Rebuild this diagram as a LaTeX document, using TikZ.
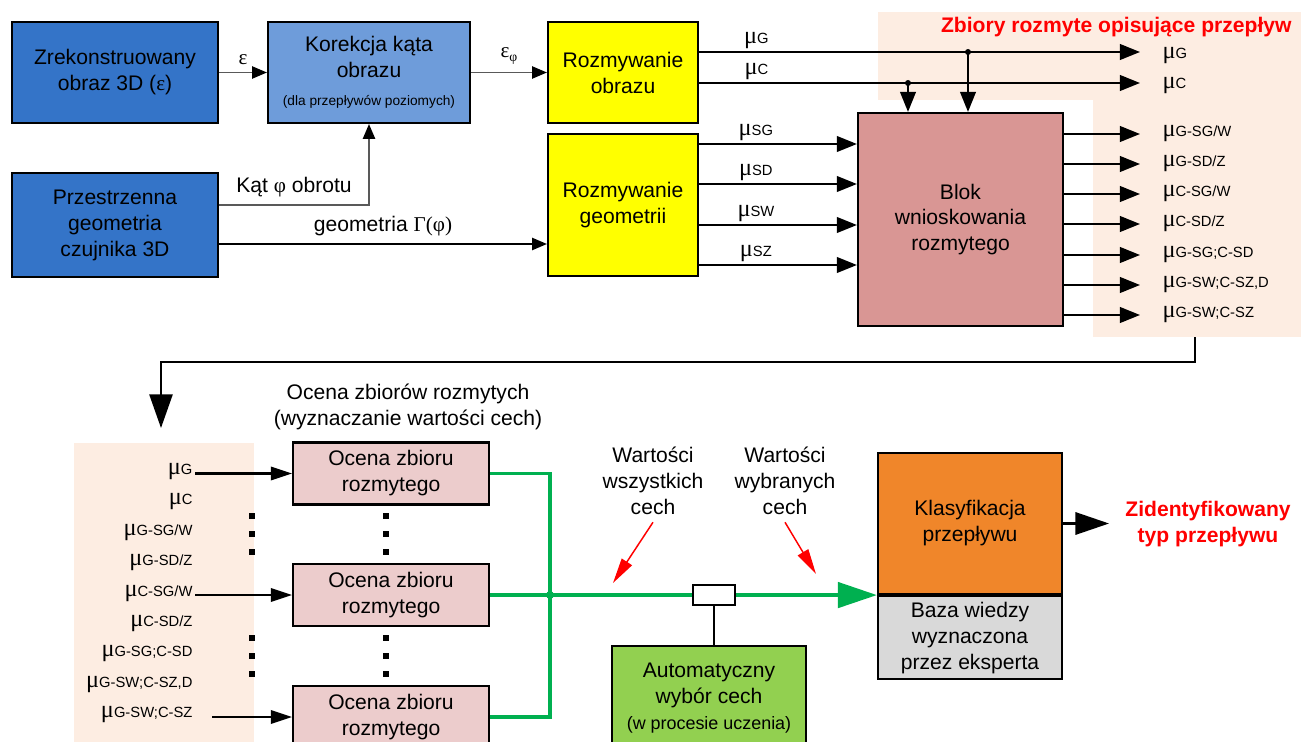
\documentclass[tikz,border=0pt]{standalone}
\usepackage{fontspec}
\setmainfont{Liberation Sans}
\newfontfamily\symb{Liberation Serif}
\usepackage{tikz}
\usetikzlibrary{calc}
\usetikzlibrary{arrows.meta}
\usetikzlibrary{positioning}
\definecolor{obrazblue}{RGB}{52, 116, 200}
\definecolor{korblue}{RGB}{110, 156, 218}
\definecolor{rozyellow}{RGB}{255, 255, 0}
\definecolor{blokpink}{RGB}{217, 150, 148}
\definecolor{ocenapink}{RGB}{236, 204, 204}
\definecolor{peach}{RGB}{253, 237, 226}
\definecolor{klasorange}{RGB}{240, 134, 42}
\definecolor{autogreen}{RGB}{146, 208, 80}
\definecolor{bazagray}{RGB}{217, 217, 217}
\definecolor{busgreen}{RGB}{0, 176, 80}
\newcommand{\mufs}[1]{{\symb\fontsize{11.5}{12}\selectfont μ}{\fontsize{7}{8}\selectfont #1}}
\newcommand{\smalltxt}{\fontsize{6.5}{8}\selectfont}

\begin{document}
\begin{tikzpicture}[x=0.016667cm, y=-0.016667cm,
        font=\fontsize{10}{12.3}\selectfont,
        box/.style={draw=black, line width=1pt, align=center, inner sep=1pt},
        thinarrow/.style={draw=black!65, line width=0.7pt, -{Triangle[length=7pt, width=5.8pt, color=black]}},
        muarrow/.style={line width=1pt, -{Triangle[length=9.5pt, width=7.4pt]}},
        inarrow/.style={line width=1pt, -{Triangle[length=10pt, width=6.4pt]}},
        retarrow/.style={line width=1pt, -{Triangle[length=16pt, width=11pt]}},
        busline/.style={draw=busgreen, line width=1.8pt},
        busarrow/.style={draw=busgreen, line width=1.8pt, -{Triangle[length=18.5pt, width=12pt]}},
        outarrow/.style={line width=1.4pt, -{Triangle[length=16pt, width=10.5pt]}},
        redarrow/.style={draw=red, line width=0.7pt, -{Triangle[length=12pt, width=5.7pt]}},
        redtxt/.style={text=red, font=\fontsize{10}{12.3}\selectfont\bfseries, align=center}]
    \useasboundingbox (0,0) rectangle (1301,742);
    \clip (0,0) rectangle (1301,742);

    % tla
    \fill[peach] (878,12) rectangle (1301,100);
    \fill[peach] (1093,100) rectangle (1301,337);
    \fill[peach] (74,443) rectangle (254,742);

    % gorny rzad
    \node[box, fill=obrazblue, minimum width=3.433cm, minimum height=1.683cm] (obraz) at (115,72.5)
        {Zrekonstruowany\\obraz 3D ({\symb ε})};
    \node[box, fill=korblue, minimum width=3.367cm, minimum height=1.683cm] (korekcja) at (369,72.5)
        {Korekcja kąta\\obrazu\\[1pt]{\smalltxt (dla przepływów poziomych)}};
    \node[box, fill=obrazblue, minimum width=3.433cm, minimum height=1.733cm] (geom) at (115,225)
        {Przestrzenna\\geometria\\czujnika 3D};
    \node[box, fill=rozyellow, minimum width=2.5cm, minimum height=1.683cm] (rozobr) at (623,72.5)
        {Rozmywanie\\obrazu};
    \node[box, fill=rozyellow, minimum width=2.5cm, minimum height=2.367cm] (rozgeo) at (623,205)
        {Rozmywanie\\geometrii};
    \node[box, fill=blokpink, minimum width=3.417cm, minimum height=3.55cm] (blok) at (960.5,219.5)
        {Blok\\wnioskowania\\rozmytego};

    \draw[thinarrow] (obraz) -- (korekcja) node[midway, above] {{\symb ε}};
    \draw[thinarrow] (korekcja) -- (rozobr)
        node[midway, above] {{\symb ε\raisebox{-0.4ex}{\smalltxt φ}}};
    \draw[thinarrow] ($(geom.east)+(0,-20)$) -| (korekcja.south)
        node[pos=0.25, above] {Kąt {\symb φ} obrotu};
    \draw[thinarrow, draw=black] ($(geom.east)+(0,19)$) coordinate (gA) -- (gA -| rozgeo.west)
        node[midway, above] {geometria {\symb Γ(φ)}};

    % zbiory rozmyte
    \node[redtxt, anchor=east] (ztitle) at (1299,27) {Zbiory rozmyte opisujące przepływ};
    \coordinate (lineG) at (1140,52);
    \coordinate (lineC) at (1140,83);
    \node[anchor=west, inner sep=1pt] (oG) at (1160,56) {\mufs{G}};
    \node[anchor=west, inner sep=1pt] (oC) at (1160,86) {\mufs{C}};
    \draw[muarrow] (rozobr.east |- lineG) -- (lineG) node[pos=0.13, above, inner sep=1pt] {\mufs{G}};
    \draw[muarrow] (rozobr.east |- lineC) -- (lineC) node[pos=0.13, above, inner sep=1pt] {\mufs{C}};
    \coordinate (tapG) at (968,52);
    \coordinate (tapC) at (908,83);
    \fill (tapG) circle (3);
    \fill (tapC) circle (3);
    \draw[muarrow] (tapG) -- (tapG |- blok.north);
    \draw[muarrow] (tapC) -- (tapC |- blok.north);

    \foreach \y/\s [count=\i] in {144/SG, 184/SD, 225/SW, 265/SZ} {
        \coordinate (in\i) at (800,\y);
        \draw[muarrow] (rozgeo.east |- in\i) -- (blok.west |- in\i)
            node[pos=0.36, above, inner sep=1pt] {\mufs{\s}};
    }
    \foreach \y/\s [count=\i] in {134/{G-SG/W}, 164/{G-SD/Z}, 194/{C-SG/W}, 224/{C-SD/Z},
            255/{G-SG;C-SD}, 285/{G-SW;C-SZ,D}, 315/{G-SW;C-SZ}} {
        \node[anchor=west, inner sep=1pt] (out\i) at (1160,\y) {\mufs{\s}};
        \draw[muarrow] (blok.east |- out\i.west) -- ($(out\i.west)+(-20,0)$);
    }

    % powrot
    \coordinate (retA) at (1195,337);
    \coordinate (retB) at (161,428);
    \draw[retarrow] (retA) -- ++(0,25) -| (retB);

    % ocena zbiorow
    \node[align=center] (ocenahead) at (408,407) {Ocena zbiorów rozmytych\\(wyznaczanie wartości cech)};
    \foreach \y [count=\i] in {473.5, 595, 717}
        \node[box, fill=ocenapink, minimum width=3.267cm, minimum height=1.033cm] (ocena\i) at (391,\y)
            {Ocena zbioru\\rozmytego};
    \foreach \y/\s [count=\i] in {472/G, 502/C, 533/{G-SG/W}, 563/{G-SD/Z}, 594/{C-SG/W},
            624/{C-SD/Z}, 654/{G-SG;C-SD}, 685/{G-SW;C-SZ,D}, 715/{G-SW;C-SZ}}
        \node[anchor=east, inner sep=1pt] (l\i) at (195,\y) {\mufs{\s}};
    \draw[inarrow] (ocena1.west -| l1.east) -- (ocena1.west);
    \draw[inarrow] (ocena2.west -| l5.east) -- (ocena2.west);
    \draw[inarrow] ($(ocena3.west -| l9.east)+(17,0)$) -- (ocena3.west);
    \foreach \x in {252, 386}
        \foreach \y in {516, 534, 552, 638, 656, 674}
            \fill (\x-3,\y-3) rectangle (\x+3,\y+3);

    % wybor cech
    \node[draw, fill=white, line width=1pt, minimum width=0.7cm, minimum height=0.333cm, inner sep=0pt]
        (switch) at (714,595) {};
    \coordinate (bus) at (550,595);
    \draw[busline] (ocena1.east) -| (bus);
    \draw[busline] (ocena3.east) -| (bus);
    \draw[busline] (ocena2.east) -- (bus) -- (switch.west);
    \fill[busgreen] (bus) circle (4);
    \node[box, fill=autogreen, minimum width=3.233cm, minimum height=1.733cm] (auto) at (709,698)
        {Automatyczny\\wybór cech\\{\fontsize{8.5}{10}\selectfont (w procesie uczenia)}};
    \draw[line width=1pt] (switch.south) -- (switch.south |- auto.north);

    % klasyfikacja
    \node[box, fill=klasorange, minimum width=3.067cm, minimum height=2.35cm] (klas) at (970,523.5)
        {Klasyfikacja\\przepływu};
    \node[box, fill=bazagray, minimum width=3.067cm, minimum height=1.383cm, anchor=north] (baza)
        at (klas.south) {Baza wiedzy\\wyznaczona\\przez eksperta};
    \draw[busarrow] (switch.east) -- (klas.south west);
    \draw[outarrow] (klas.east) -- ++(46,0);
    \node[redtxt] (ident) at (1208,524) {Zidentyfikowany\\typ przepływu};

    \node[align=center] (wsz) at (653,481) {Wartości\\wszystkich\\cech};
    \node[align=center] (wyb) at (785,481) {Wartości\\wybranych\\cech};
    \coordinate (redA) at (613,583);
    \coordinate (redB) at (816,574);
    \draw[redarrow] (wsz.south) -- (redA);
    \draw[redarrow] (wyb.south) -- (redB);
\end{tikzpicture}
\end{document}
